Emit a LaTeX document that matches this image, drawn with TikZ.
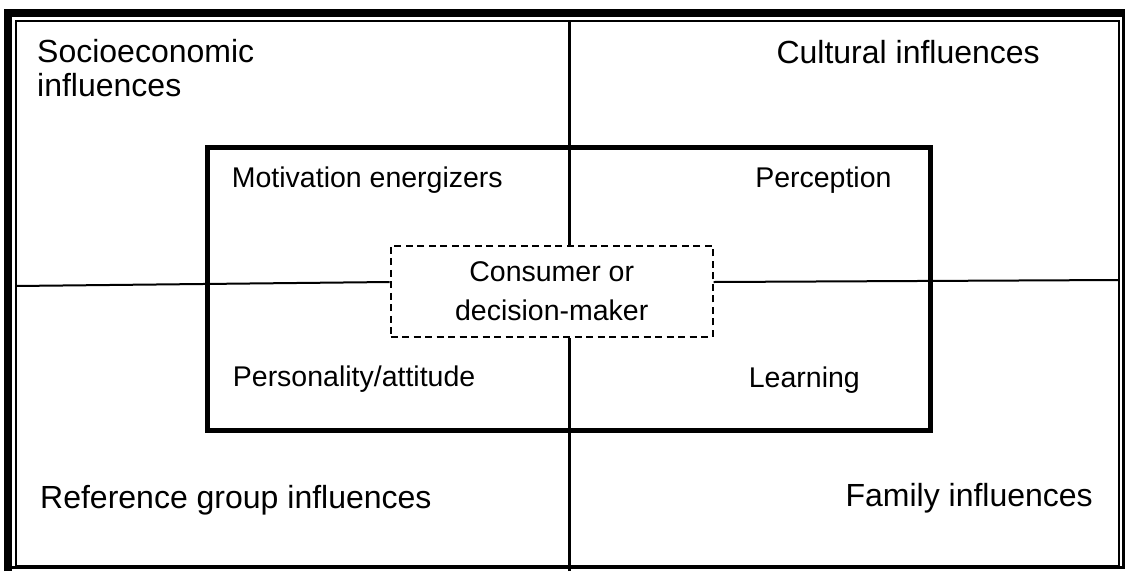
\documentclass[tikz,border=0pt]{standalone}
\usepackage{fontspec}
\setmainfont{Liberation Sans}
\begin{document}
\begin{tikzpicture}[x=1pt,y=-1pt,
  big/.style={font=\fontsize{32}{34}\selectfont},
  small/.style={font=\fontsize{28.5}{38.7}\selectfont}]
\useasboundingbox (0,0) rectangle (1128,571);
% outer frame
\draw [line width=8pt] (8,571) -- (8,13) -- (1125,13);
\draw [line width=3pt] (1123.5,11) -- (1123.5,567.5) -- (4,567.5);
\draw [line width=2pt] (15.5,21) rectangle (1119,565.5);
% inner box and centre
\node (core) [draw, line width=5pt, minimum width=723pt, minimum height=283pt]
  at (568.5,288.5) {};
\node (cons) [draw, dashed, dash pattern=on 7pt off 4.5pt, line width=2pt,
  minimum width=322pt, minimum height=91pt, small, align=center,
  inner sep=0pt] at (551.7,291.3) {Consumer or\\decision-maker};
% dividing lines
\coordinate (top) at (569,21);
\coordinate (bot) at (569,571);
\coordinate (lft) at (15.5,286);
\coordinate (rgt) at (1119,280);
\draw [line width=3pt] (top) -- (top |- cons.north);
\draw [line width=3pt] (bot) -- (bot |- cons.south);
\draw [line width=2pt] (lft) -- (cons.west |- 0,282);
\draw [line width=2pt] (rgt) -- (cons.east |- 0,282);
% outer labels
\node (socio) [big, anchor=base west, inner sep=0pt] at (37,62.3) {Socioeconomic};
\node (socio2) [big, anchor=base west, inner sep=0pt] at (37,96.7) {influences};
\node (cult) [big, anchor=base east, inner sep=0pt] at (1040,63.3) {Cultural influences};
\node (refg) [big, anchor=base west, inner sep=0pt] at (40,508) {Reference group influences};
\node (fam) [big, anchor=base east, inner sep=0pt] at (1093,506.7) {Family influences};
% inner labels
\node (motiv) [small, anchor=base west, inner sep=0pt] at (231.7,187.3) {Motivation energizers};
\node (perc) [small, anchor=base east, inner sep=0pt] at (891.7,187.3) {Perception};
\node (pers) [small, anchor=base west, inner sep=0pt] at (232.7,386.7) {Personality/attitude};
\node (learn) [small, anchor=base east, inner sep=0pt] at (860,387.3) {Learning};
\end{tikzpicture}
\end{document}
